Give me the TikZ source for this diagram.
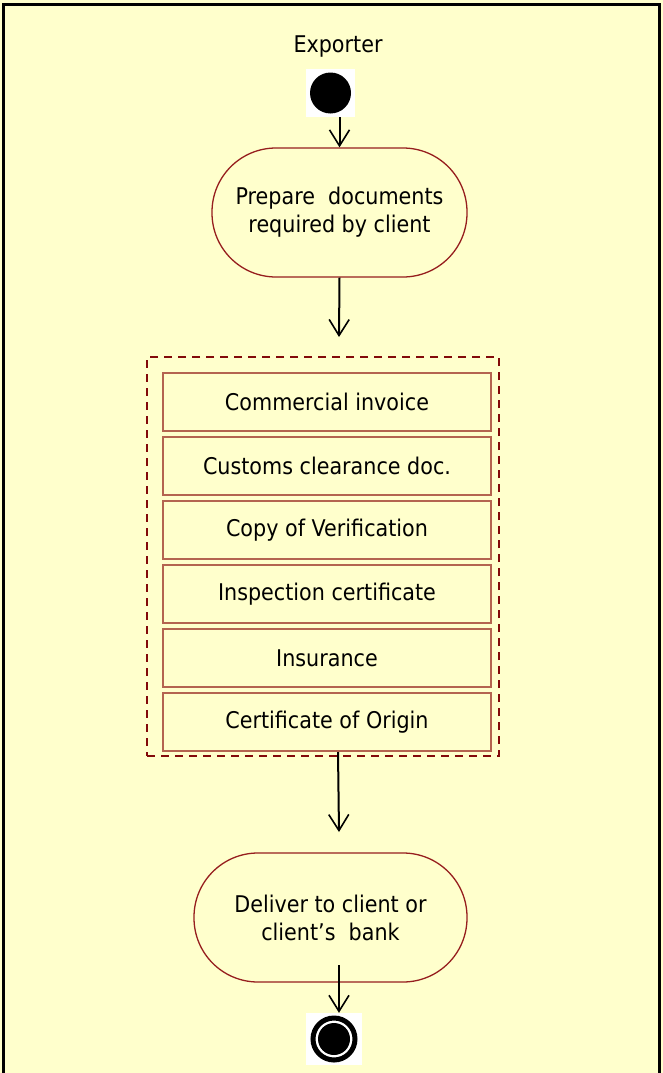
\documentclass[tikz,border=0pt]{standalone}
\usepackage{fontspec}
\setmainfont{DejaVu Sans}[FakeStretch=0.9]
\usetikzlibrary{arrows.meta}
\definecolor{bg}{HTML}{FFFFCC}
\definecolor{darkred}{RGB}{150,30,30}
\definecolor{dashred}{RGB}{130,10,10}
\definecolor{boxbrown}{RGB}{180,100,80}
\tikzset{
  txt/.style={font=\fontsize{23}{28}\selectfont, text=black, align=center},
  activity/.style={txt, draw=darkred, line width=1.3pt, fill=bg, rounded corners=64pt,
                   minimum height=129pt, inner sep=0pt},
  docbox/.style={txt, draw=boxbrown, line width=1.5pt, minimum width=328pt, minimum height=58pt, inner sep=0pt},
  arr/.style={line width=2pt, -{Straight Barb[length=16pt,width=20pt,line width=1.6pt]}},
}
\begin{document}
\begin{tikzpicture}[x=1pt,y=-1pt]
\useasboundingbox (0,0) rectangle (663,1073);
\fill[bg] (0,0) rectangle (663,1073);
\draw[line width=3pt] (3,1090) -- (3,5) -- (659,5) -- (659,1090);

\node[txt] (title) at (338,47) {Exporter};
\node[fill=white, minimum width=49pt, minimum height=48pt, inner sep=0pt] (start) at (330.5,93) {};
\fill[black] (start.center) circle (20.5);

\node[activity, minimum width=255pt] (prep) at (339.5,212.5) {Prepare\ \ documents\\required by client};
\draw[arr] (start.south -| prep.north) -- (prep.north);

\coordinate (a2e) at (339,337);
\draw[arr] (prep.south) -- (a2e);

\node[draw=dashred, line width=2pt, dash pattern=on 8pt off 6pt, minimum width=352pt, minimum height=399pt, inner sep=0pt] (docs) at (323,556.5) {};
\node[docbox] (c1) at (327,402) {Commercial invoice};
\node[docbox] (c2) at (327,466) {Customs clearance doc.};
\node[docbox] (c3) at (327,530) {Copy of Verification};
\node[docbox] (c4) at (327,594) {Inspection certificate};
\node[docbox] (c5) at (327,658) {Insurance};
\node[docbox] (c6) at (327,722) {Certificate of Origin};

\coordinate (a3s) at (338,752);
\coordinate (a3e) at (339,832);
\draw[arr] (a3s) -- (a3e);

\node[activity, minimum width=273pt] (deliver) at (330.5,917.5) {Deliver to client or\\client’s\ \ bank};

\node[fill=white, minimum width=56pt, minimum height=52pt, inner sep=0pt] (end) at (334,1039) {};
\draw[black, line width=5pt] (end.center) circle (21);
\fill[black] (end.center) circle (16);

\coordinate (a4s) at (339,965);
\draw[arr] (a4s) -- (end.north -| a4s);
\end{tikzpicture}
\end{document}
